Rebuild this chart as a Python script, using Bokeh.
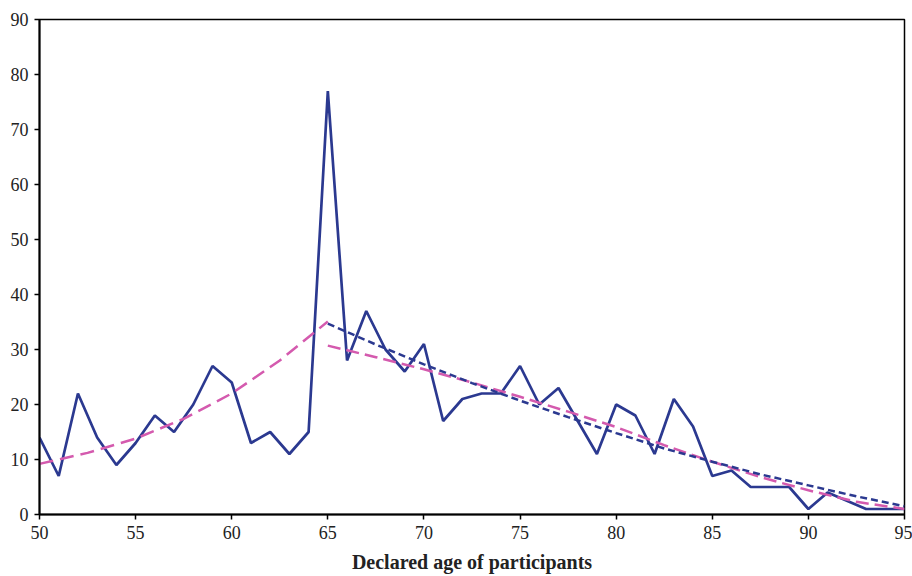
from bokeh.plotting import figure
from bokeh.models import FixedTicker, Range1d
from bokeh.embed import file_html
from bokeh.resources import INLINE

# Declared age and number of participants
ages = list(range(50, 96))
counts = [14, 7, 22, 14, 9, 13, 18, 15, 20, 27,
          24, 13, 15, 11, 15, 77, 28, 37, 30, 26,
          31, 17, 21, 22, 22, 27, 20, 23, 17, 11,
          20, 18, 11, 21, 16, 7, 8, 5, 5, 5,
          1, 4, 2.5, 1, 1, 1]

# Trend curves
trend_left_x = [50, 52.5, 55, 57.5, 60, 62.5, 65]
trend_left_y = [9.2, 11.2, 13.8, 17.4, 22.0, 28.0, 35.1]

trend_right_x = [65, 67.5, 70, 72.5, 75, 77.5, 80, 82.5, 85, 87.5, 90, 92.5, 95]
trend_right_pink_y = [30.7, 28.6, 26.4, 24.0, 21.4, 18.7, 15.9, 12.6, 9.6, 6.8, 4.4, 2.3, 1.0]
trend_right_navy_y = [34.7, 30.9, 27.3, 23.9, 20.7, 17.7, 14.8, 12.0, 9.6, 7.3, 5.3, 3.3, 1.5]

x_ticks = [50, 55, 60, 65, 70, 75, 80, 85, 90, 95]
y_ticks = [0, 10, 20, 30, 40, 50, 60, 70, 80, 90]

NAVY = "#2B3990"
PINK = "#D45AAE"
FONT = "Liberation Serif"

p = figure(width=912, height=576, output_backend="svg", toolbar_location=None,
           x_range=Range1d(50, 95), y_range=Range1d(0, 90),
           min_border_left=39, min_border_right=8, min_border_top=19, min_border_bottom=62)

p.xgrid.visible = False
p.ygrid.visible = False
p.outline_line_color = "black"
p.outline_line_width = 1.5
p.background_fill_color = "white"
p.border_fill_color = "white"

for ax in (p.xaxis[0], p.yaxis[0]):
    ax.axis_line_color = "black"
    ax.axis_line_width = 2
    ax.major_tick_line_color = "black"
    ax.major_tick_line_width = 1.5
    ax.major_tick_out = 5
    ax.major_tick_in = 0
    ax.minor_tick_line_color = None
    ax.major_label_text_font = FONT
    ax.major_label_text_font_size = "18px"
    ax.major_label_text_color = "#222222"

p.xaxis.ticker = FixedTicker(ticks=x_ticks)
p.yaxis.ticker = FixedTicker(ticks=y_ticks)
p.xaxis.major_label_standoff = 6
p.yaxis.major_label_standoff = 6
p.xaxis.axis_label = "Declared age of participants"
p.xaxis.axis_label_text_font = FONT
p.xaxis.axis_label_text_font_style = "bold"
p.xaxis.axis_label_text_font_size = "20px"
p.xaxis.axis_label_text_color = "#222222"
p.xaxis.axis_label_standoff = 9

p.line(ages, counts, line_color=NAVY, line_width=2.7)
p.line(trend_left_x, trend_left_y, line_color=PINK, line_width=2.5, line_dash="14 7")
p.line(trend_right_x, trend_right_pink_y, line_color=PINK, line_width=2.5, line_dash="13 6")
p.line(trend_right_x, trend_right_navy_y, line_color=NAVY, line_width=2.5, line_dash="7 4")

open("out.html", "w").write(file_html(p, INLINE))
